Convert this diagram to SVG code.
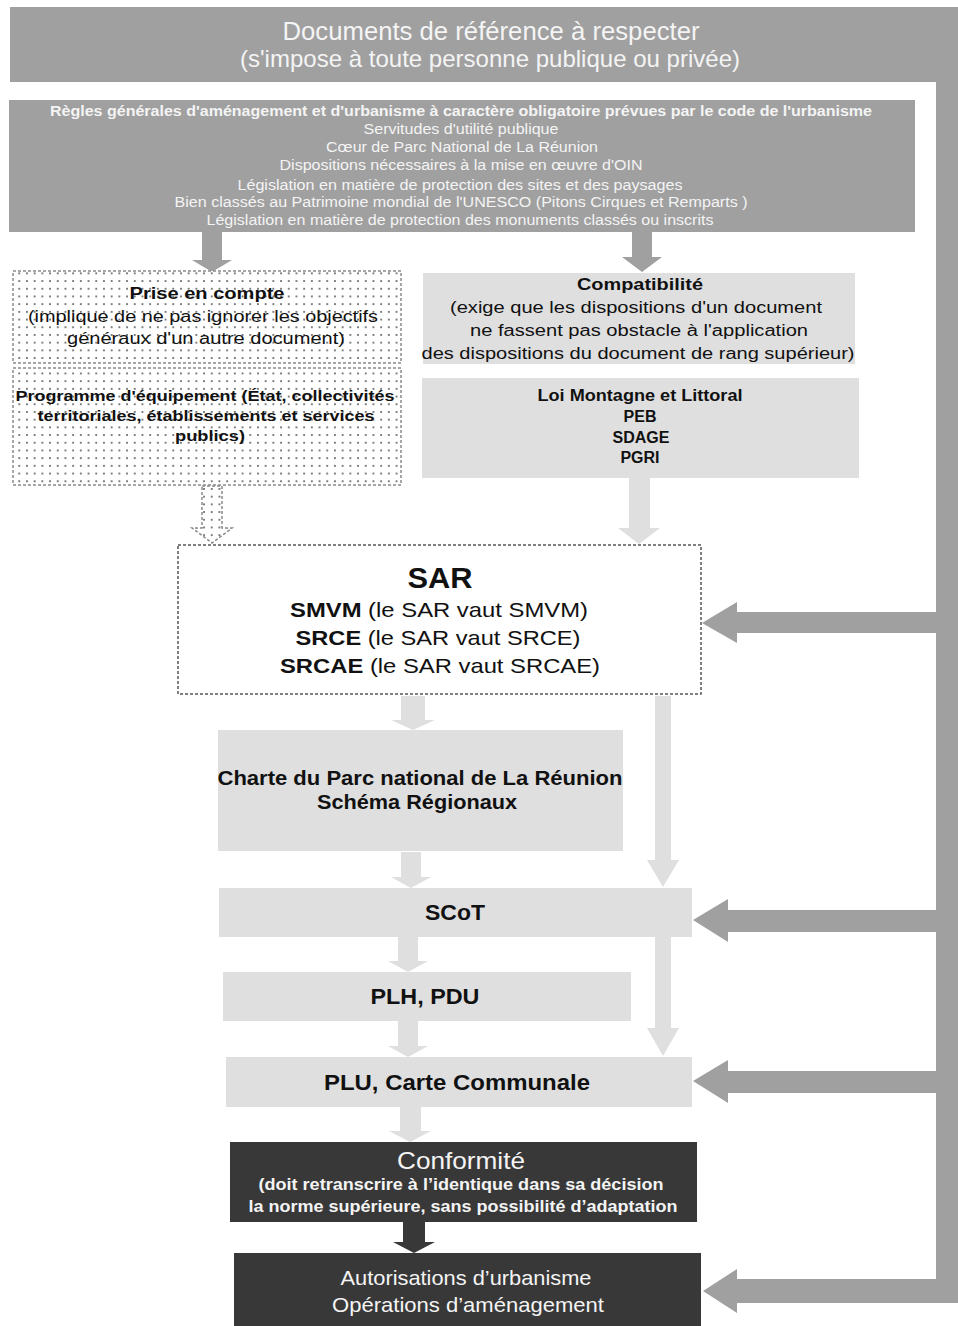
<svg xmlns="http://www.w3.org/2000/svg" width="958" height="1326" viewBox="0 0 958 1326">
<defs>
<pattern id="dots" width="7.7" height="7.7" patternUnits="userSpaceOnUse">
<rect width="7.7" height="7.7" fill="#ffffff"/>
<circle cx="3.85" cy="3.85" r="0.9" fill="#444444"/>
</pattern>
<style>
text{font-family:"Liberation Sans",Arial,sans-serif;text-anchor:middle}
.w{fill:#f4f4f4}
.k{fill:#111111}
.b{font-weight:bold}
.mid{fill:#a0a0a0}
.light{fill:#dfdfdf}
.dark{fill:#383838}
.dot{fill:url(#dots);stroke:#8a8a8a;stroke-width:1.5;stroke-dasharray:3 2}
.sar{fill:#ffffff;stroke:#555555;stroke-width:1.5;stroke-dasharray:3 2}
</style>
</defs>

<g id="connectors">
<path class="mid" d="M936,80 H958 V1303 H737 V1313 L703,1291 L737,1269 V1279 H936 Z"/>
<polygon class="mid" points="940,612 737,612 737,602 702,623 737,643 737,633 940,633"/>
<polygon class="mid" points="940,910 728,910 728,899 693,920 728,942 728,932 940,932"/>
<polygon class="mid" points="940,1071 728,1071 728,1060 693,1081 728,1103 728,1093 940,1093"/>
<polygon class="mid" points="202,232 222,232 222,260 232,260 212,272 192,260 202,260"/>
<polygon class="mid" points="632,232 652,232 652,257 662,257 642,272 622,257 632,257"/>
<polygon class="dot" points="202,486 222,486 222,528 232,528 212,543 192,528 202,528"/>
<polygon class="light" points="629,478 650,478 650,528 660,528 639,544 618,528 629,528"/>
<polygon class="light" points="401,696 425,696 425,720 435,720 413,730 391,720 401,720"/>
<polygon class="light" points="655,696 671,696 671,860 679,860 663,887 647,860 655,860"/>
<polygon class="light" points="655,937 671,937 671,1028 679,1028 663,1056 647,1028 655,1028"/>
<polygon class="light" points="401,852 421,852 421,877 431,877 411,888 391,877 401,877"/>
<polygon class="light" points="398,937 418,937 418,961 428,961 408,972 388,961 398,961"/>
<polygon class="light" points="398,1021 418,1021 418,1046 428,1046 408,1057 388,1046 398,1046"/>
<polygon class="light" points="400,1107 421,1107 421,1131 431,1131 410,1142 389,1131 400,1131"/>
<polygon class="dark" points="403,1222 425,1222 425,1242 435,1242 414,1253 393,1242 403,1242"/>
</g>

<g id="documents-reference">
<rect class="mid" x="10" y="7" width="948" height="75"/>
<text class="w" x="491" y="40" font-size="26" textLength="417" lengthAdjust="spacingAndGlyphs">Documents de référence à respecter</text>
<text class="w" x="490" y="67" font-size="24" textLength="500" lengthAdjust="spacingAndGlyphs">(s'impose à toute personne publique ou privée)</text>
</g>

<g id="regles-generales">
<rect class="mid" x="9" y="100" width="906" height="132"/>
<text class="w b" x="461" y="116" font-size="14" textLength="822" lengthAdjust="spacingAndGlyphs">Règles générales d'aménagement et d'urbanisme à caractère obligatoire prévues par le code de l'urbanisme</text>
<text class="w" x="461" y="134" font-size="14" textLength="195" lengthAdjust="spacingAndGlyphs">Servitudes d'utilité publique</text>
<text class="w" x="462" y="152" font-size="14" textLength="272" lengthAdjust="spacingAndGlyphs">Cœur de Parc National de La Réunion</text>
<text class="w" x="461" y="170" font-size="14" textLength="363" lengthAdjust="spacingAndGlyphs">Dispositions nécessaires à la mise en œuvre d'OIN</text>
<text class="w" x="460" y="190" font-size="14" textLength="445" lengthAdjust="spacingAndGlyphs">Législation en matière de protection des sites et des paysages</text>
<text class="w" x="461" y="207" font-size="14" textLength="573" lengthAdjust="spacingAndGlyphs">Bien classés au Patrimoine mondial de l'UNESCO (Pitons Cirques et Remparts )</text>
<text class="w" x="460" y="225" font-size="14" textLength="507" lengthAdjust="spacingAndGlyphs">Législation en matière de protection des monuments classés ou inscrits</text>
</g>

<g id="prise-en-compte">
<rect class="dot" x="13" y="271" width="388" height="92"/>
<text class="k b" x="207" y="299" font-size="16" textLength="155" lengthAdjust="spacingAndGlyphs">Prise en compte</text>
<text class="k" x="203" y="322" font-size="16" textLength="350" lengthAdjust="spacingAndGlyphs">(implique de ne pas ignorer les objectifs</text>
<text class="k" x="206" y="344" font-size="16" textLength="278" lengthAdjust="spacingAndGlyphs">généraux d'un autre document)</text>
</g>

<g id="programme-equipement">
<rect class="dot" x="13" y="368" width="388" height="117"/>
<text class="k b" x="205" y="401" font-size="15.5" textLength="379" lengthAdjust="spacingAndGlyphs">Programme d'équipement (État, collectivités</text>
<text class="k b" x="206" y="421" font-size="15.5" textLength="337" lengthAdjust="spacingAndGlyphs">territoriales, établissements et services</text>
<text class="k b" x="210" y="441" font-size="15.5" textLength="70" lengthAdjust="spacingAndGlyphs">publics)</text>
</g>

<g id="compatibilite">
<rect class="light" x="423" y="273" width="432" height="91"/>
<text class="k b" x="640" y="290" font-size="16" textLength="126" lengthAdjust="spacingAndGlyphs">Compatibilité</text>
<text class="k" x="636" y="313" font-size="16" textLength="372" lengthAdjust="spacingAndGlyphs">(exige que les dispositions d'un document</text>
<text class="k" x="639" y="336" font-size="16" textLength="338" lengthAdjust="spacingAndGlyphs">ne fassent pas obstacle à l'application</text>
<text class="k" x="638" y="359" font-size="16" textLength="433" lengthAdjust="spacingAndGlyphs">des dispositions du document de rang supérieur)</text>
</g>

<g id="loi-montagne">
<rect class="light" x="422" y="378" width="437" height="100"/>
<text class="k b" x="640" y="401" font-size="16" textLength="205" lengthAdjust="spacingAndGlyphs">Loi Montagne et Littoral</text>
<text class="k b" x="640" y="422" font-size="16">PEB</text>
<text class="k b" x="641" y="443" font-size="16">SDAGE</text>
<text class="k b" x="640" y="463" font-size="16">PGRI</text>
</g>

<g id="sar">
<rect class="sar" x="178" y="545" width="523" height="149"/>
<text class="k b" x="440" y="588" font-size="30" textLength="65" lengthAdjust="spacingAndGlyphs">SAR</text>
<text class="k" x="439" y="617" font-size="21" textLength="298" lengthAdjust="spacingAndGlyphs"><tspan class="b">SMVM</tspan> (le SAR vaut SMVM)</text>
<text class="k" x="438" y="645" font-size="21" textLength="285" lengthAdjust="spacingAndGlyphs"><tspan class="b">SRCE</tspan> (le SAR vaut SRCE)</text>
<text class="k" x="440" y="673" font-size="21" textLength="320" lengthAdjust="spacingAndGlyphs"><tspan class="b">SRCAE</tspan> (le SAR vaut SRCAE)</text>
</g>

<g id="charte">
<rect class="light" x="218" y="730" width="405" height="121"/>
<text class="k b" x="420" y="785" font-size="21" textLength="405" lengthAdjust="spacingAndGlyphs">Charte du Parc national de La Réunion</text>
<text class="k b" x="417" y="809" font-size="21" textLength="200" lengthAdjust="spacingAndGlyphs">Schéma Régionaux</text>
</g>

<g id="scot">
<rect class="light" x="219" y="888" width="473" height="49"/>
<text class="k b" x="455" y="920" font-size="22" textLength="60" lengthAdjust="spacingAndGlyphs">SCoT</text>
</g>

<g id="plh-pdu">
<rect class="light" x="223" y="972" width="408" height="49"/>
<text class="k b" x="425" y="1004" font-size="22" textLength="109" lengthAdjust="spacingAndGlyphs">PLH, PDU</text>
</g>

<g id="plu">
<rect class="light" x="226" y="1057" width="466" height="50"/>
<text class="k b" x="457" y="1090" font-size="22" textLength="266" lengthAdjust="spacingAndGlyphs">PLU, Carte Communale</text>
</g>

<g id="conformite">
<rect class="dark" x="230" y="1142" width="467" height="80"/>
<text class="w" x="461" y="1169" font-size="24" textLength="128" lengthAdjust="spacingAndGlyphs">Conformité</text>
<text class="w b" x="461" y="1190" font-size="17" textLength="405" lengthAdjust="spacingAndGlyphs">(doit retranscrire à l’identique dans sa décision</text>
<text class="w b" x="463" y="1212" font-size="17" textLength="429" lengthAdjust="spacingAndGlyphs">la norme supérieure, sans possibilité d’adaptation</text>
</g>

<g id="autorisations">
<rect class="dark" x="234" y="1253" width="467" height="73"/>
<text class="w" x="466" y="1285" font-size="21" textLength="251" lengthAdjust="spacingAndGlyphs">Autorisations d’urbanisme</text>
<text class="w" x="468" y="1312" font-size="21" textLength="272" lengthAdjust="spacingAndGlyphs">Opérations d’aménagement</text>
</g>
</svg>
